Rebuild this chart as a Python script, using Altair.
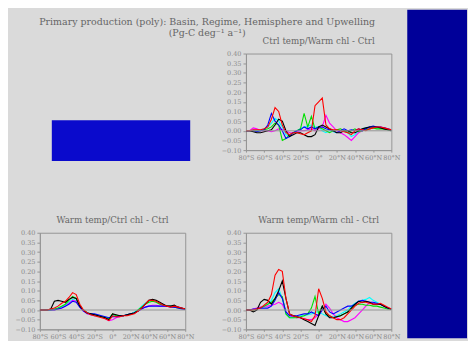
import altair as alt
import pandas as pd

# ---------------- data ----------------
LATS = [-80, -76, -72, -68, -64, -60, -56, -52, -48, -44, -40, -36, -32, -28,
        -24, -20, -16, -12, -8, -4, 0, 4, 8, 12, 16, 20, 24, 28, 32, 36, 40,
        44, 48, 52, 56, 60, 64, 68, 72, 76, 80]

SERIES = ["cyan", "magenta", "green", "blue", "black", "red"]
COLORS = ["#00ffff", "#ff00ff", "#00e000", "#0000ff", "#000000", "#ff0000"]

# Panel 1: Ctrl temp/Warm chl - Ctrl
P1_RED = [0, 0, 0.005, 0.005, 0.005, 0.01, 0.02, 0.06, 0.12, 0.10, 0.03, -0.01, -0.02, -0.01,
          -0.01, -0.015, -0.02, -0.01, 0.0, 0.13, 0.15, 0.17, 0.03, 0.01, 0.005, 0.005, 0.0, -0.005,
          -0.01, -0.02, 0.0, 0.01, 0.005, 0.0, 0.01, 0.015, 0.02, 0.02, 0.015, 0.01, 0.005]
P1_GREEN = [0, 0, 0, 0, 0, 0.005, 0.01, 0.02, 0.04, 0.03, -0.05, -0.04, -0.02, -0.01,
            0.0, 0.01, 0.09, 0.02, 0.075, 0.01, 0.02, 0.01, 0.0, -0.01, 0.0, 0.005, 0.01, 0.0,
            -0.01, 0.0, 0.01, -0.005, 0.0, 0.005, 0.01, 0.015, 0.01, 0.01, 0.01, 0.005, 0]
P1_BLUE = [0, 0, 0, -0.005, 0, 0.005, 0.03, 0.09, 0.05, 0.03, 0.0, -0.04, -0.03, -0.01,
           0.0, 0.005, 0.02, 0.01, 0.02, 0.01, 0.02, 0.02, 0.01, 0.005, 0.0, -0.01, 0.0, 0.01,
           0.0, 0.005, 0.0, 0.01, 0.0, 0.01, 0.02, 0.025, 0.02, 0.02, 0.015, 0.01, 0.005]
P1_CYAN = [0, 0, 0.005, 0, 0, 0.01, 0.02, 0.04, 0.065, 0.05, 0.02, -0.02, -0.03, -0.01,
           0.0, 0.01, 0.02, 0.025, 0.03, 0.02, 0.02, 0.0, -0.01, 0.0, -0.005, -0.01, 0.0, 0.0,
           -0.01, -0.03, -0.02, 0.0, 0.01, 0.015, 0.02, 0.02, 0.015, 0.015, 0.01, 0.005, 0]
P1_MAGENTA = [0, 0, 0.015, 0.01, 0, 0, 0, -0.005, 0, 0.01, 0.005, 0, -0.01, -0.01,
              -0.005, 0, 0, 0.005, 0.01, 0, 0.01, 0.02, 0.08, 0.04, 0.02, 0, -0.01, -0.02,
              -0.035, -0.05, -0.03, -0.01, 0, 0.01, 0.02, 0.02, 0.02, 0.02, 0.015, 0.01, 0]
P1_BLACK = [0, 0, -0.005, -0.01, -0.01, -0.005, 0, 0.005, 0.03, 0.06, 0.05, 0, -0.03, -0.02,
            -0.01, -0.01, -0.02, -0.03, -0.03, -0.02, 0.02, 0.03, 0.02, 0.01, 0, -0.01, -0.01, 0,
            0, -0.01, -0.01, 0, 0.01, 0.015, 0.02, 0.02, 0.02, 0.015, 0.01, 0.005, 0]

# Panel 2: Warm temp/Ctrl chl - Ctrl
P2_RED = [0, 0, 0, 0.005, 0.01, 0.02, 0.035, 0.045, 0.065, 0.09, 0.08, 0.03, 0, -0.015,
          -0.025, -0.03, -0.035, -0.04, -0.045, -0.055, -0.03, -0.035, -0.035, -0.03, -0.03, -0.025,
          -0.02, -0.005, 0.01, 0.03, 0.05, 0.05, 0.045, 0.035, 0.025, 0.02, 0.015, 0.02, 0.015, 0.01, 0.005]
P2_GREEN = [0, 0, 0, 0, 0.005, 0.01, 0.02, 0.03, 0.05, 0.07, 0.06, 0.02, 0, -0.015,
            -0.02, -0.025, -0.03, -0.035, -0.04, -0.045, -0.02, -0.03, -0.03, -0.03, -0.025, -0.02,
            -0.015, 0, 0.015, 0.03, 0.04, 0.045, 0.04, 0.03, 0.025, 0.02, 0.02, 0.015, 0.01, 0.008, 0.005]
P2_BLUE = [0, 0, 0, 0, 0, 0.005, 0.01, 0.02, 0.03, 0.045, 0.04, 0.015, -0.005, -0.015,
           -0.02, -0.02, -0.025, -0.03, -0.035, -0.04, -0.035, -0.035, -0.03, -0.03, -0.025, -0.02,
           -0.015, -0.005, 0.005, 0.015, 0.02, 0.02, 0.02, 0.02, 0.02, 0.02, 0.015, 0.015, 0.01, 0.005, 0.003]
P2_CYAN = [0, 0, 0, 0, 0.005, 0.01, 0.015, 0.025, 0.04, 0.055, 0.05, 0.015, -0.005, -0.02,
           -0.025, -0.03, -0.03, -0.035, -0.04, -0.045, -0.03, -0.03, -0.03, -0.03, -0.025, -0.02,
           -0.01, 0, 0.02, 0.035, 0.045, 0.05, 0.045, 0.035, 0.025, 0.02, 0.02, 0.02, 0.015, 0.01, 0.005]
P2_MAGENTA = [0, 0, 0, 0, 0, 0.005, 0.01, 0.02, 0.035, 0.05, 0.045, 0.015, -0.005, -0.02,
              -0.025, -0.03, -0.03, -0.035, -0.045, -0.055, -0.05, -0.04, -0.035, -0.03, -0.025, -0.02,
              -0.015, -0.005, 0.005, 0.015, 0.02, 0.025, 0.025, 0.02, 0.02, 0.02, 0.02, 0.015, 0.015, 0.01, 0.005]
P2_BLACK = [0, 0, 0, 0.005, 0.045, 0.05, 0.045, 0.04, 0.055, 0.065, 0.06, 0.02, 0, -0.015,
            -0.02, -0.025, -0.03, -0.035, -0.04, -0.05, -0.02, -0.025, -0.03, -0.03, -0.025, -0.02,
            -0.015, -0.005, 0.01, 0.03, 0.05, 0.055, 0.05, 0.04, 0.03, 0.02, 0.02, 0.025, 0.015, 0.01, 0.005]

# Panel 3: Warm temp/Warm chl - Ctrl
P3_RED = [0, 0, 0, 0.005, 0.01, 0.025, 0.04, 0.08, 0.18, 0.21, 0.20, 0.06, -0.02, -0.03,
          -0.035, -0.04, -0.045, -0.05, -0.06, -0.03, 0.11, 0.06, -0.01, -0.03, -0.04, -0.05,
          -0.05, -0.04, -0.02, 0.0, 0.02, 0.035, 0.04, 0.04, 0.035, 0.03, 0.03, 0.035, 0.025, 0.015, 0.005]
P3_GREEN = [0, 0, 0, 0.005, 0.01, 0.02, 0.03, 0.04, 0.06, 0.08, 0.07, -0.02, -0.04, -0.04,
            -0.04, -0.035, -0.03, -0.02, 0.01, 0.07, -0.02, 0.02, -0.02, -0.03, -0.04, -0.035,
            -0.03, -0.02, -0.01, 0.01, 0.025, 0.03, 0.03, 0.025, 0.025, 0.02, 0.02, 0.015, 0.01, 0.005, 0.003]
P3_BLUE = [0, 0, 0.005, 0.005, 0.01, 0.01, 0.01, 0.02, 0.05, 0.09, 0.06, -0.01, -0.03, -0.03,
           -0.03, -0.025, -0.02, -0.02, -0.01, -0.02, -0.03, 0.0, 0.02, -0.01, -0.02, -0.01,
           0.0, 0.01, 0.02, 0.02, 0.03, 0.045, 0.05, 0.045, 0.04, 0.04, 0.035, 0.03, 0.02, 0.01, 0.005]
P3_CYAN = [0, 0, 0, 0.005, 0.01, 0.02, 0.03, 0.05, 0.09, 0.11, 0.06, -0.02, -0.04, -0.04,
           -0.035, -0.03, -0.03, -0.025, -0.02, -0.01, -0.01, -0.02, -0.03, -0.035, -0.035, -0.03,
           -0.02, -0.01, 0.0, 0.02, 0.035, 0.045, 0.05, 0.055, 0.065, 0.05, 0.04, 0.03, 0.02, 0.01, 0.005]
P3_MAGENTA = [0, 0, 0.005, 0.01, 0.015, 0.02, 0.02, 0.025, 0.03, 0.04, 0.03, -0.01, -0.03, -0.035,
              -0.04, -0.04, -0.045, -0.05, -0.05, -0.04, -0.02, 0.0, 0.03, 0.01, -0.02, -0.04,
              -0.05, -0.06, -0.06, -0.05, -0.04, -0.02, 0.0, 0.02, 0.04, 0.035, 0.03, 0.03, 0.02, 0.01, 0.005]
P3_BLACK = [0, 0, -0.01, 0.0, 0.04, 0.055, 0.05, 0.03, 0.06, 0.10, 0.15, 0.06, -0.02, -0.03,
            -0.035, -0.04, -0.05, -0.06, -0.07, -0.08, -0.03, 0.02, -0.02, -0.04, -0.04, -0.035,
            -0.03, -0.02, -0.01, 0.01, 0.03, 0.045, 0.04, 0.045, 0.04, 0.03, 0.03, 0.03, 0.02, 0.01, 0.005]

TITLE = "Primary production (poly): Basin, Regime, Hemisphere and Upwelling"
SUBTITLE = "(Pg-C deg\u207b\u00b9 a\u207b\u00b9)"
PANEL_TITLES = ["Ctrl temp/Warm chl - Ctrl", "Warm temp/Ctrl chl - Ctrl",
                "Warm temp/Warm chl - Ctrl"]
X_TICKS = [-80, -60, -40, -20, 0, 20, 40, 60, 80]
X_LABELS = ["80°S", "60°S", "40°S", "20°S", "0°", "20°N", "40°N", "60°N", "80°N"]
Y_TICKS = [-0.10, -0.05, 0.0, 0.05, 0.10, 0.15, 0.20, 0.25, 0.30, 0.35, 0.40]

# ---------------- styling ----------------
BG = "#dadada"
PAGE_BLUE = "#000099"
BOX_BLUE = "#0a0acc"
FRAME = "#959595"
FONT = "DejaVu Serif"
W, H = 146, 97

label_expr = "[" + ",".join("'%s'" % s for s in X_LABELS) + "][indexof([" + \
    ",".join(str(v) for v in X_TICKS) + "], datum.value)]"

one = pd.DataFrame({"k": [0]})


def long_df(series_lists):
    rows = []
    for name, vals in zip(SERIES, series_lists):
        for lat, v in zip(LATS, vals):
            rows.append({"lat": lat, "value": v, "series": name})
    return pd.DataFrame(rows)


def panel(series_lists, title, extra=None):
    df = long_df(series_lists)
    x = alt.X("lat:Q", scale=alt.Scale(domain=[-80, 80], nice=False, zero=False),
              axis=alt.Axis(values=X_TICKS, labelExpr=label_expr, title=None,
                            labelFlush=False, labelOverlap=False, tickSize=2,
                            labelPadding=2))
    y = alt.Y("value:Q", scale=alt.Scale(domain=[-0.10, 0.40], nice=False, zero=False),
              axis=alt.Axis(values=Y_TICKS, format=".2f", title=None, tickSize=3,
                            labelPadding=2, labelFlush=False, labelOverlap=False))
    zero = alt.Chart(pd.DataFrame({"value": [0.0]})).mark_rule(
        color=FRAME, strokeWidth=1).encode(y=y)
    lines = alt.Chart(df).mark_line(strokeWidth=1.1, clip=True).encode(
        x=x, y=y,
        color=alt.Color("series:N", scale=alt.Scale(domain=SERIES, range=COLORS), legend=None),
    )
    head = alt.Chart(one).mark_text(text=title, font=FONT, fontSize=8.7, color="#666666",
                                    align="center", baseline="middle").encode(
        x=alt.value(W / 2), y=alt.value(-13))
    layers = [lines, zero, head] + (extra or [])
    return alt.layer(*layers).properties(
        width=W, height=H,
        view=alt.ViewBackground(stroke=FRAME),
    )


# top-left cell: main title and the empty blue box (plot origin at design x=31, y=44)
corner = alt.layer(
    alt.Chart(one).mark_rect(color=BG).encode(
        x=alt.value(-31), x2=alt.value(-30), y=alt.value(-44), y2=alt.value(-43)),
    alt.Chart(one).mark_rect(color=BOX_BLUE).encode(
        x=alt.value(12), x2=alt.value(151), y=alt.value(67), y2=alt.value(108)),
    alt.Chart(one).mark_text(text=TITLE, font=FONT, fontSize=9.5, color="#666666",
                             align="center", baseline="middle").encode(
        x=alt.value(168), y=alt.value(-32)),
    alt.Chart(one).mark_text(text=SUBTITLE, font=FONT, fontSize=9.5, color="#666666",
                             align="center", baseline="middle").encode(
        x=alt.value(168), y=alt.value(-21)),
).properties(width=W, height=H, view=alt.ViewBackground(stroke="transparent"))

# right-hand page strip, drawn with the last panel (plot origin at design x=238, y=224)
strip = alt.Chart(one).mark_rect(color=PAGE_BLUE).encode(
    x=alt.value(162), x2=alt.value(222), y=alt.value(-224), y2=alt.value(106))

p1 = panel([P1_CYAN, P1_MAGENTA, P1_GREEN, P1_BLUE, P1_BLACK, P1_RED], PANEL_TITLES[0])
p2 = panel([P2_CYAN, P2_MAGENTA, P2_GREEN, P2_BLUE, P2_BLACK, P2_RED], PANEL_TITLES[1])
p3 = panel([P3_CYAN, P3_MAGENTA, P3_GREEN, P3_BLUE, P3_BLACK, P3_RED], PANEL_TITLES[2],
           extra=[strip])

chart = alt.concat(corner, p1, p2, p3, columns=2, bounds="flush",
                   spacing=alt.RowColnumber(row=83, column=61)).properties(
    padding=0, background=BG
).configure_axis(
    labelFont=FONT, labelFontSize=6.5, labelColor="#8a8a8a",
    domainColor=FRAME, tickColor=FRAME, grid=False,
).configure_view(stroke=FRAME)

chart.save("out.html", embed_options={"renderer": "svg", "actions": False})
